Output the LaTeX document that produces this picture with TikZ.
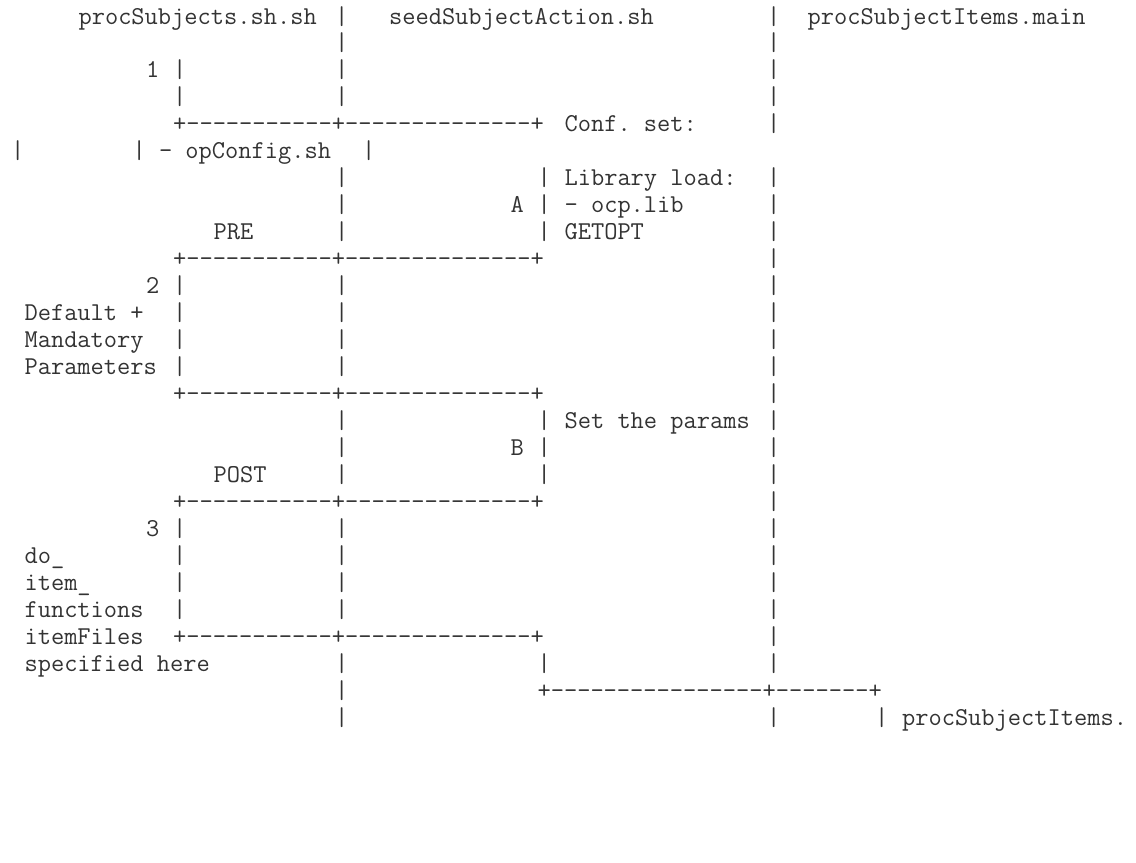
\documentclass[tikz,border=0pt]{standalone}
\usepackage{fontspec}
\usepackage{tikz}

\newcommand\asciifont{\fontsize{18.29}{22}\selectfont\ttfamily\frenchspacing}
\newcommand\dashrun[1]{\foreach \k in {1,...,#1}{-\kern0pt}}

\begin{document}
\begin{tikzpicture}[x=3.375mm,y=-6.74mm,
  every node/.style={anchor=mid west,inner sep=0pt,font=\asciifont,text=black!80}]
\useasboundingbox (-0.796,0.221) rectangle (83.352,32.231);
% header
\draw node (r1c5) at (5,1) {procSubjects.sh.sh};
\draw node (r1c24) at (24,1) {|};
\draw node (r1c28) at (28,1) {seedSubjectAction.sh};
\draw node (r1c56) at (56,1) {|};
\draw node (r1c59) at (59,1) {procSubjectItems.main};
\draw node (r2c24) at (24,2) {|};
\draw node (r2c56) at (56,2) {|};
% step 1
\draw node (r3c10) at (10,3) {1};
\draw node (r3c12) at (12,3) {|};
\draw node (r3c24) at (24,3) {|};
\draw node (r3c56) at (56,3) {|};
\draw node (r4c12) at (12,4) {|};
\draw node (r4c24) at (24,4) {|};
\draw node (r4c56) at (56,4) {|};
\draw node (r5c12) at (12,5) {+\dashrun{11}+\dashrun{14}+};
\draw node (r5c41) at (41,5) {Conf. set:};
\draw node (r5c56) at (56,5) {|};
\draw node (r6c0) at (0,6) {|};
\draw node (r6c9) at (9,6) {| - opConfig.sh};
\draw node (r6c26) at (26,6) {|};
\draw node (r7c24) at (24,7) {|};
\draw node (r7c39) at (39,7) {|};
\draw node (r7c41) at (41,7) {Library load:};
\draw node (r7c56) at (56,7) {|};
\draw node (r8c24) at (24,8) {|};
\draw node (r8c37) at (37,8) {A};
\draw node (r8c39) at (39,8) {|};
\draw node (r8c41) at (41,8) {- ocp.lib};
\draw node (r8c56) at (56,8) {|};
\draw node (r9c15) at (15,9) {PRE};
\draw node (r9c24) at (24,9) {|};
\draw node (r9c39) at (39,9) {|};
\draw node (r9c41) at (41,9) {GETOPT};
\draw node (r9c56) at (56,9) {|};
\draw node (r10c12) at (12,10) {+\dashrun{11}+\dashrun{14}+};
\draw node (r10c56) at (56,10) {|};
% step 2
\draw node (r11c10) at (10,11) {2};
\draw node (r11c12) at (12,11) {|};
\draw node (r11c24) at (24,11) {|};
\draw node (r11c56) at (56,11) {|};
\draw node (r12c1) at (1,12) {Default +};
\draw node (r12c12) at (12,12) {|};
\draw node (r12c24) at (24,12) {|};
\draw node (r12c56) at (56,12) {|};
\draw node (r13c1) at (1,13) {Mandatory};
\draw node (r13c12) at (12,13) {|};
\draw node (r13c24) at (24,13) {|};
\draw node (r13c56) at (56,13) {|};
\draw node (r14c1) at (1,14) {Parameters};
\draw node (r14c12) at (12,14) {|};
\draw node (r14c24) at (24,14) {|};
\draw node (r14c56) at (56,14) {|};
\draw node (r15c12) at (12,15) {+\dashrun{11}+\dashrun{14}+};
\draw node (r15c56) at (56,15) {|};
\draw node (r16c24) at (24,16) {|};
\draw node (r16c39) at (39,16) {|};
\draw node (r16c41) at (41,16) {Set the params};
\draw node (r16c56) at (56,16) {|};
\draw node (r17c24) at (24,17) {|};
\draw node (r17c37) at (37,17) {B};
\draw node (r17c39) at (39,17) {|};
\draw node (r17c56) at (56,17) {|};
\draw node (r18c15) at (15,18) {POST};
\draw node (r18c24) at (24,18) {|};
\draw node (r18c39) at (39,18) {|};
\draw node (r18c56) at (56,18) {|};
\draw node (r19c12) at (12,19) {+\dashrun{11}+\dashrun{14}+};
\draw node (r19c56) at (56,19) {|};
% step 3
\draw node (r20c10) at (10,20) {3};
\draw node (r20c12) at (12,20) {|};
\draw node (r20c24) at (24,20) {|};
\draw node (r20c56) at (56,20) {|};
\draw node (r21c1) at (1,21) {do\_};
\draw node (r21c12) at (12,21) {|};
\draw node (r21c24) at (24,21) {|};
\draw node (r21c56) at (56,21) {|};
\draw node (r22c1) at (1,22) {item\_};
\draw node (r22c12) at (12,22) {|};
\draw node (r22c24) at (24,22) {|};
\draw node (r22c56) at (56,22) {|};
\draw node (r23c1) at (1,23) {functions};
\draw node (r23c12) at (12,23) {|};
\draw node (r23c24) at (24,23) {|};
\draw node (r23c56) at (56,23) {|};
\draw node (r24c1) at (1,24) {itemFiles};
\draw node (r24c12) at (12,24) {+\dashrun{11}+\dashrun{14}+};
\draw node (r24c56) at (56,24) {|};
\draw node (r25c1) at (1,25) {specified here};
\draw node (r25c24) at (24,25) {|};
\draw node (r25c39) at (39,25) {|};
\draw node (r25c56) at (56,25) {|};
\draw node (r26c24) at (24,26) {|};
\draw node (r26c39) at (39,26) {+\dashrun{16}+\dashrun{7}+};
\draw node (r27c24) at (24,27) {|};
\draw node (r27c56) at (56,27) {|};
\draw node (r27c64) at (64,27) {|};
\draw node (r27c66) at (66,27) {procSubjectItems.};
\end{tikzpicture}
\end{document}
